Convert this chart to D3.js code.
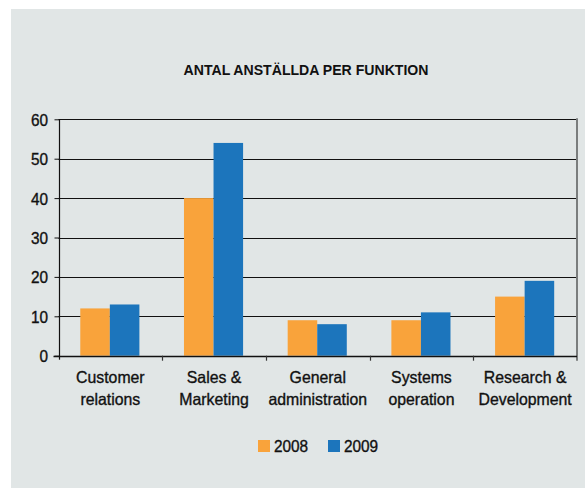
<!DOCTYPE html>
<html>
<head>
<meta charset="utf-8">
<script src="https://cdn.jsdelivr.net/npm/d3@7"></script>
<style>
  html, body { margin: 0; padding: 0; background: #ffffff; }
  svg { display: block; }
  text { font-family: "Liberation Sans", Arial, sans-serif; fill: #111; }
  .lbl { stroke: #111; stroke-width: 0.35px; }
</style>
</head>
<body>
<svg id="chart" width="585" height="488"></svg>
<script>
const title = "ANTAL ANSTÄLLDA PER FUNKTION";
const categories = [
  ["Customer", "relations"],
  ["Sales &", "Marketing"],
  ["General", "administration"],
  ["Systems", "operation"],
  ["Research &", "Development"]
];
const seriesNames = ["2008", "2009"];
const values2008 = [12, 40, 9, 9, 15];
const values2009 = [13, 54, 8, 11, 19];
const yTicks = [0, 10, 20, 30, 40, 50, 60];
const colors = ["#f9a33b", "#1c75bc"];

(function () {
const svg = d3.select("#chart");
const W = 585, H = 488;

// background panel
svg.append("rect").attr("x", 11).attr("y", 9).attr("width", W - 11).attr("height", H - 9).attr("fill", "#e1e6e6");

const pLeft = 58.5, pRight = 577, pTop = 119.3, pBottom = 355.7;

const keys = categories.map((c, i) => i);
const x = d3.scaleBand().domain(keys).range([pLeft, pRight]).paddingInner(0).paddingOuter(0);
const bw = x.bandwidth();
const xs = d3.scaleBand().domain(seriesNames).range([bw * 0.21, bw * 0.78]).padding(0);
const y = d3.scaleLinear().domain([0, 60]).range([pBottom, pTop]);

// title
svg.append("text")
  .attr("transform", `translate(306,75) scale(0.91,1)`)
  .attr("text-anchor", "middle")
  .style("font-size", "15.5px").style("font-weight", "bold")
  .text(title);

// gridlines
const gy = svg.append("g");
gy.selectAll("line").data(yTicks.filter(t => t > 0)).join("line")
  .attr("x1", pLeft).attr("x2", pRight)
  .attr("y1", d => Math.round(y(d)) + 0.5).attr("y2", d => Math.round(y(d)) + 0.5)
  .attr("stroke", "#111").attr("stroke-width", 1.2);

// bars
const data = keys.map(i => ({ i, vals: [values2008[i], values2009[i]] }));
const groups = svg.append("g").selectAll("g").data(data).join("g")
  .attr("transform", d => `translate(${x(d.i)},0)`);
groups.selectAll("rect").data(d => d.vals.map((v, k) => ({ v, k }))).join("rect")
  .attr("x", d => xs(seriesNames[d.k]))
  .attr("width", xs.bandwidth())
  .attr("y", d => y(d.v))
  .attr("height", d => y(0) - y(d.v))
  .attr("fill", d => colors[d.k]);

// right border
svg.append("line").attr("x1", pRight).attr("x2", pRight).attr("y1", pTop - 1).attr("y2", pBottom + 5)
  .attr("stroke", "#7a7d7d").attr("stroke-width", 2);

// y axis
const yAxis = d3.axisLeft(y).tickValues(yTicks).tickSize(5).tickPadding(7).tickFormat(d3.format("d"));
const gYA = svg.append("g").attr("transform", `translate(${Math.round(pLeft) + 0.5},0)`).call(yAxis);
gYA.select(".domain").remove();
gYA.selectAll(".tick line").attr("stroke", "#111");
gYA.append("line").attr("x1", 0).attr("x2", 0).attr("y1", pTop).attr("y2", pBottom + 4).attr("stroke", "#111").attr("stroke-width", 1.2);
gYA.selectAll(".tick text")
  .attr("x", null)
  .attr("class", "lbl")
  .attr("transform", `translate(-11.5,0) scale(0.93,1)`)
  .style("font-size", "16.5px").style("fill", "#111").attr("dy", "0.36em");

// x axis line and ticks
svg.append("line").attr("x1", pLeft - 5).attr("x2", pRight).attr("y1", Math.round(pBottom) + 0.5).attr("y2", Math.round(pBottom) + 0.5)
  .attr("stroke", "#111").attr("stroke-width", 1.6);
svg.append("g").selectAll("line").data(keys.slice(1).map(i => x(i))).join("line")
  .attr("x1", d => Math.round(d) + 0.5).attr("x2", d => Math.round(d) + 0.5)
  .attr("y1", pBottom).attr("y2", pBottom + 5)
  .attr("stroke", "#333").attr("stroke-width", 1.2);

// x labels
const xl = svg.append("g").selectAll("g").data(data).join("g")
  .attr("transform", d => `translate(${x(d.i) + bw / 2},0)`);
xl.each(function (d) {
  const g = d3.select(this);
  categories[d.i].forEach((line, li) => {
    g.append("text")
      .attr("class", "lbl")
      .attr("transform", `translate(0,${383 + li * 21.5}) scale(0.96,1)`)
      .attr("text-anchor", "middle")
      .style("font-size", "16.5px")
      .text(line);
  });
});

// legend
const legendItems = [{ name: seriesNames[0], x: 258 }, { name: seriesNames[1], x: 328 }];
const lg = svg.append("g").selectAll("g").data(legendItems).join("g")
  .attr("transform", d => `translate(${d.x},440)`);
lg.append("rect").attr("width", 12).attr("height", 12).attr("fill", (d, i) => colors[i]);
lg.append("text").attr("class", "lbl").attr("transform", `translate(16,12) scale(0.96,1)`).style("font-size", "16px").text(d => d.name);
})();
</script>
</body>
</html>
